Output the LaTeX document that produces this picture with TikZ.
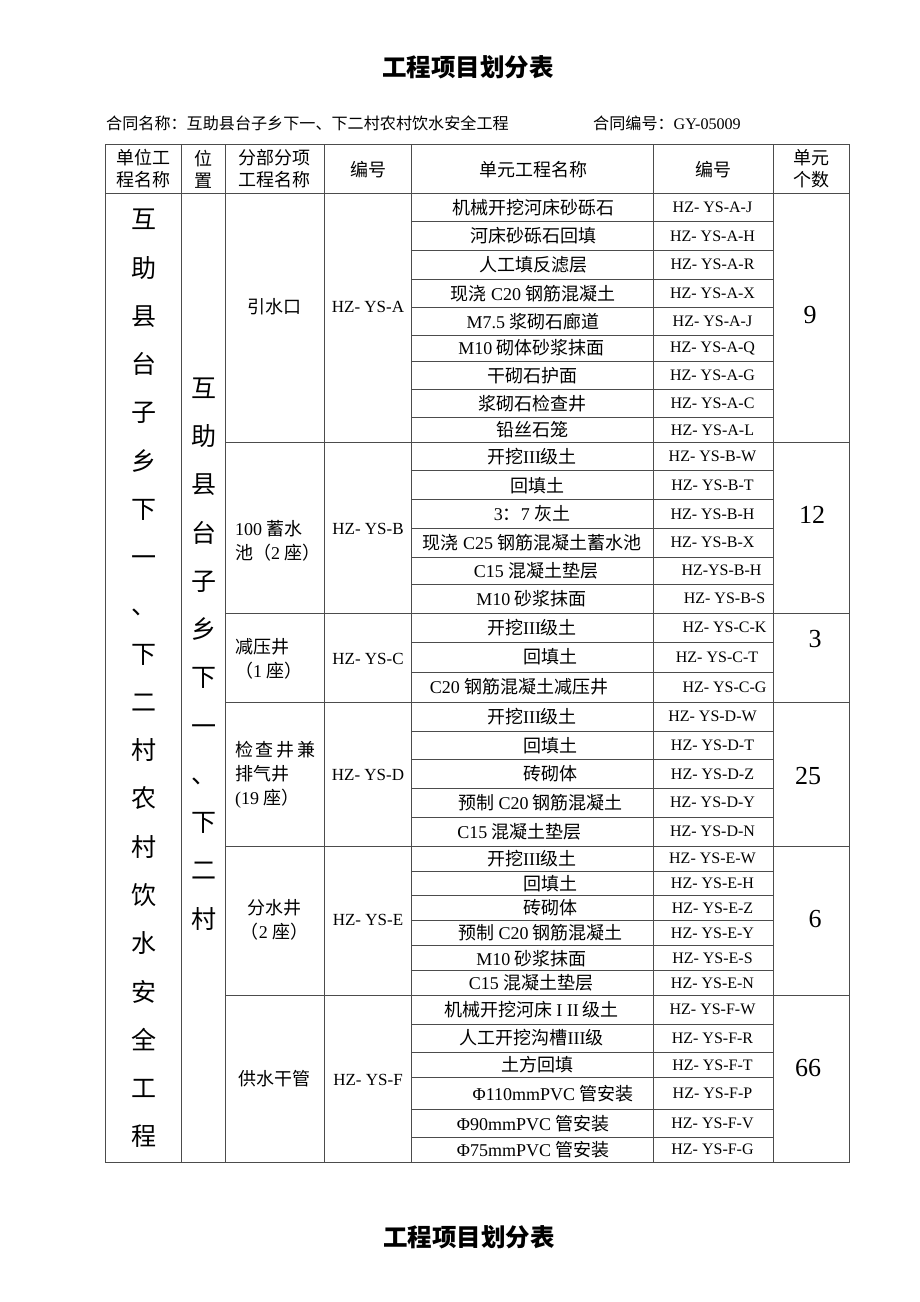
\documentclass[tikz,border=0pt]{standalone}
\usepackage{fontspec}
\setmainfont{Liberation Serif}
\newfontfamily\cjk{Noto Sans CJK SC}
\newfontfamily\lat{Liberation Serif}

\begin{document}
\begin{tikzpicture}[x=1pt,y=-1pt,
    rule/.style={black!70,line width=0.9pt},
    title/.style={font=\cjk\bfseries\fontsize{24.5}{24.5}\selectfont,inner sep=0pt},
    head/.style={font=\cjk\fontsize{16.1}{18}\selectfont,inner sep=0pt},
    cell/.style={font=\cjk\fontsize{18}{22}\selectfont,inner sep=0pt},
    part/.style={font=\cjk\fontsize{18}{24}\selectfont,inner sep=0pt,align=left},
    big/.style={font=\cjk\fontsize{25}{48.26}\selectfont,inner sep=0pt,align=center},
    sub/.style={font=\lat\fontsize{17}{20}\selectfont,inner sep=0pt},
    code/.style={font=\lat\fontsize{16}{18}\selectfont,inner sep=0pt},
    num/.style={font=\lat\fontsize{26}{26}\selectfont,inner sep=0pt}]
        \useasboundingbox (0,0) rectangle (920,1302);

        \node[title] (top) at (468,67) {工程项目划分表};
        \node[head,anchor=west] (name) at (106,123) {合同名称：互助县台子乡下一、下二村农村饮水安全工程};
        \node[head,anchor=west] (no) at (593,123) {合同编号：{\lat GY-05009}};

        % frame and columns
        \draw[rule] (105,144) rectangle (849.3,1162);
        \draw[rule] (181.7,144) -- (181.7,1162);
        \draw[rule] (225.3,144) -- (225.3,1162);
        \draw[rule] (324,144) -- (324,1162);
        \draw[rule] (411.7,144) -- (411.7,1162);
        \draw[rule] (653.3,144) -- (653.3,1162);
        \draw[rule] (773.3,144) -- (773.3,1162);
        \draw[rule] (105,193.3) -- (849.3,193.3);

        \draw[rule] (225.3,442.3) -- (849.3,442.3);
        \draw[rule] (225.3,613.3) -- (849.3,613.3);
        \draw[rule] (225.3,702) -- (849.3,702);
        \draw[rule] (225.3,846) -- (849.3,846);
        \draw[rule] (225.3,995.3) -- (849.3,995.3);

        \draw[rule] (411.7,221.7) -- (773.3,221.7) (411.7,250) -- (773.3,250) (411.7,279) -- (773.3,279)
            (411.7,307.7) -- (773.3,307.7) (411.7,335) -- (773.3,335) (411.7,361) -- (773.3,361)
            (411.7,389.7) -- (773.3,389.7) (411.7,417.7) -- (773.3,417.7);
        \draw[rule] (411.7,470.7) -- (773.3,470.7) (411.7,499.7) -- (773.3,499.7) (411.7,528) -- (773.3,528)
            (411.7,557) -- (773.3,557) (411.7,584) -- (773.3,584);
        \draw[rule] (411.7,642) -- (773.3,642) (411.7,672) -- (773.3,672);
        \draw[rule] (411.7,731) -- (773.3,731) (411.7,759.7) -- (773.3,759.7) (411.7,788) -- (773.3,788)
            (411.7,817) -- (773.3,817);
        \draw[rule] (411.7,871) -- (773.3,871) (411.7,895.7) -- (773.3,895.7) (411.7,920.3) -- (773.3,920.3)
            (411.7,945.7) -- (773.3,945.7) (411.7,970.7) -- (773.3,970.7);
        \draw[rule] (411.7,1024) -- (773.3,1024) (411.7,1052) -- (773.3,1052) (411.7,1077.7) -- (773.3,1077.7)
            (411.7,1109.7) -- (773.3,1109.7) (411.7,1137.3) -- (773.3,1137.3);

        % header
        \node[cell,align=center] (h1) at (143.5,169) {单位工\\程名称};
        \node[cell,align=center] (h2) at (203.5,169) {位\\置};
        \node[cell,align=center] (h3) at (274.5,169) {分部分项\\工程名称};
        \node[cell] (h4) at (368,170) {编号};
        \node[cell] (h5) at (533,170) {单元工程名称};
        \node[cell] (h6) at (713,170) {编号};
        \node[cell,align=center] (h7) at (811.5,169) {单元\\个数};

        \node[big] (unit) at (143.5,678.5) {互\\助\\县\\台\\子\\乡\\下\\一\\、\\下\\二\\村\\农\\村\\饮\\水\\安\\全\\工\\程};
        \node[big] (site) at (203.5,654) {互\\助\\县\\台\\子\\乡\\下\\一\\、\\下\\二\\村};

        \node[cell] (pa) at (274.5,307) {引水口};
        \node[part,anchor=west] (pb) at (235,540.5) {{\lat 100} 蓄水\\池（{\lat 2} 座）};
        \node[part,anchor=west] (pc) at (235,659) {减压井\\（{\lat 1} 座）};
        \node[part,anchor=west] (pd) at (235,775) {检\hspace{2.7pt}查\hspace{2.7pt}井\hspace{2.7pt}兼\\排气井\\{\lat (19} 座）};
        \node[part,align=center] (pe) at (274.5,920) {分水井\\（{\lat 2} 座）};
        \node[cell] (pf) at (274.5,1079) {供水干管};

        \node[sub] (ca) at (368,307) {HZ- YS-A};
        \node[sub] (cb) at (368,529) {HZ- YS-B};
        \node[sub] (cc) at (368,659) {HZ- YS-C};
        \node[sub] (cd) at (368,775) {HZ- YS-D};
        \node[sub] (ce) at (368,920) {HZ- YS-E};
        \node[sub] (cf) at (368,1080) {HZ- YS-F};

        % unit works, section A
        \node[cell] (a1) at (533,207.5) {机械开挖河床砂砾石};
        \node[cell] (a2) at (533,235.8) {河床砂砾石回填};
        \node[cell] (a3) at (533,264.5) {人工填反滤层};
        \node[cell] (a4) at (533,293.3) {现浇 {\lat C20} 钢筋混凝土};
        \node[cell] (a5) at (533,321.3) {{\lat M7.5} 浆砌石廊道};
        \node[cell] (a6) at (531.5,348) {{\lat M10} 砌体砂浆抹面};
        \node[cell] (a7) at (532,375.3) {干砌石护面};
        \node[cell] (a8) at (532,403.7) {浆砌石检查井};
        \node[cell] (a9) at (532,430) {铅丝石笼};
        \node[code] (a1no) at (712.5,207.5) {HZ- YS-A-J};
        \node[code] (a2no) at (712.5,235.8) {HZ- YS-A-H};
        \node[code] (a3no) at (712.5,264.5) {HZ- YS-A-R};
        \node[code] (a4no) at (712.5,293.3) {HZ- YS-A-X};
        \node[code] (a5no) at (712.5,321.3) {HZ- YS-A-J};
        \node[code] (a6no) at (712.5,348) {HZ- YS-A-Q};
        \node[code] (a7no) at (712.5,375.3) {HZ- YS-A-G};
        \node[code] (a8no) at (712.5,403.7) {HZ- YS-A-C};
        \node[code] (a9no) at (712.5,430) {HZ- YS-A-L};

        % section B
        \node[cell] (b1) at (532,456.5) {开挖{\lat III}级土};
        \node[cell] (b2) at (537,485.2) {回填土};
        \node[cell] (b3) at (532,513.8) {{\lat 3}：{\lat 7} 灰土};
        \node[cell] (b4) at (532,542.5) {现浇 {\lat C25} 钢筋混凝土蓄水池};
        \node[cell] (b5) at (536,570.5) {{\lat C15} 混凝土垫层};
        \node[cell] (b6) at (531.5,598.7) {{\lat M10} 砂浆抹面};
        \node[code] (b1no) at (712.5,456.5) {HZ- YS-B-W};
        \node[code] (b2no) at (712.5,485.2) {HZ- YS-B-T};
        \node[code] (b3no) at (712.5,513.8) {HZ- YS-B-H};
        \node[code] (b4no) at (712.5,542.5) {HZ- YS-B-X};
        \node[code] (b5no) at (721.5,570.5) {HZ-YS-B-H};
        \node[code] (b6no) at (724.5,598.7) {HZ- YS-B-S};

        % section C
        \node[cell] (c1) at (532,627.7) {开挖{\lat III}级土};
        \node[cell] (c2) at (550,657) {回填土};
        \node[cell] (c3) at (519,687) {{\lat C20} 钢筋混凝土减压井};
        \node[code] (c1no) at (724.5,627.7) {HZ- YS-C-K};
        \node[code] (c2no) at (717,657) {HZ- YS-C-T};
        \node[code] (c3no) at (724.5,687) {HZ- YS-C-G};

        % section D
        \node[cell] (d1) at (532,716.5) {开挖{\lat III}级土};
        \node[cell] (d2) at (550,745.3) {回填土};
        \node[cell] (d3) at (550,773.8) {砖砌体};
        \node[cell] (d4) at (540.5,802.5) {预制 {\lat C20} 钢筋混凝土};
        \node[cell] (d5) at (519.5,831.5) {{\lat C15} 混凝土垫层};
        \node[code] (d1no) at (712.5,716.5) {HZ- YS-D-W};
        \node[code] (d2no) at (712.5,745.3) {HZ- YS-D-T};
        \node[code] (d3no) at (712.5,773.8) {HZ- YS-D-Z};
        \node[code] (d4no) at (712.5,802.5) {HZ- YS-D-Y};
        \node[code] (d5no) at (712.5,831.5) {HZ- YS-D-N};

        % section E
        \node[cell] (e1) at (532,858.5) {开挖{\lat III}级土};
        \node[cell] (e2) at (550,883.3) {回填土};
        \node[cell] (e3) at (550,908) {砖砌体};
        \node[cell] (e4) at (540.5,933) {预制 {\lat C20} 钢筋混凝土};
        \node[cell] (e5) at (531.5,958.2) {{\lat M10} 砂浆抹面};
        \node[cell] (e6) at (531,983) {{\lat C15} 混凝土垫层};
        \node[code] (e1no) at (712.5,858.5) {HZ- YS-E-W};
        \node[code] (e2no) at (712.5,883.3) {HZ- YS-E-H};
        \node[code] (e3no) at (712.5,908) {HZ- YS-E-Z};
        \node[code] (e4no) at (712.5,933) {HZ- YS-E-Y};
        \node[code] (e5no) at (712.5,958.2) {HZ- YS-E-S};
        \node[code] (e6no) at (712.5,983) {HZ- YS-E-N};

        % section F
        \node[cell] (f1) at (531.5,1009.7) {机械开挖河床 {\lat I II} 级土};
        \node[cell] (f2) at (531.5,1038) {人工开挖沟槽{\lat III}级};
        \node[cell] (f3) at (537,1064.8) {土方回填};
        \node[cell] (f4) at (553,1093.7) {{\lat Φ110mmPVC} 管安装};
        \node[cell] (f5) at (533,1123.5) {{\lat Φ90mmPVC} 管安装};
        \node[cell] (f6) at (533,1149.7) {{\lat Φ75mmPVC} 管安装};
        \node[code] (f1no) at (712.5,1009.7) {HZ- YS-F-W};
        \node[code] (f2no) at (712.5,1038) {HZ- YS-F-R};
        \node[code] (f3no) at (712.5,1064.8) {HZ- YS-F-T};
        \node[code] (f4no) at (712.5,1093.7) {HZ- YS-F-P};
        \node[code] (f5no) at (712.5,1123.5) {HZ- YS-F-V};
        \node[code] (f6no) at (712.5,1149.7) {HZ- YS-F-G};

        \node[num] (na) at (810,315) {9};
        \node[num] (nb) at (812,515) {12};
        \node[num] (nc) at (815,639) {3};
        \node[num] (nd) at (808,776) {25};
        \node[num] (ne) at (815,919) {6};
        \node[num] (nf) at (808,1068) {66};

        \node[title] (bottom) at (469,1237) {工程项目划分表};
    \end{tikzpicture}
\end{document}
